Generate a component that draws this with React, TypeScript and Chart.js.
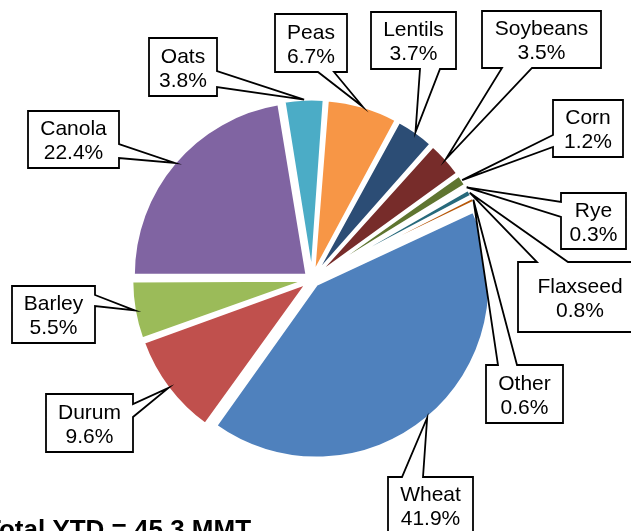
import React, { useEffect, useRef } from "react";
import { Chart, registerables } from "chart.js";

Chart.register(...registerables);

// ---- data ----
const categories = [
  "Wheat", "Durum", "Barley", "Canola", "Oats", "Peas",
  "Lentils", "Soybeans", "Corn", "Rye", "Flaxseed", "Other",
];
const shares = [41.9, 9.6, 5.5, 22.4, 3.8, 6.7, 3.7, 3.5, 1.2, 0.3, 0.8, 0.6];
const sliceColors = [
  "#4F81BD", "#C0504D", "#9BBB59", "#8064A2", "#4BACC6", "#F79646",
  "#2C4D75", "#772C2A", "#5F7530", "#4D3B62", "#276A7C", "#B65708",
];
const totalText = "Total YTD = 45.3 MMT";

// ---- layout (callout boxes: x, y, w, h, side the pointer leaves from, pointer base span) ----
type Side = "left" | "right" | "top" | "bottom";
const calloutBoxes: { x: number; y: number; w: number; h: number; side: Side; a: number; b: number }[] = [
  { x: 388, y: 477, w: 85, h: 57, side: "top", a: 402, b: 423 },     // Wheat
  { x: 46, y: 394, w: 87, h: 58, side: "right", a: 404, b: 417 },    // Durum
  { x: 12, y: 286, w: 83, h: 57, side: "right", a: 295, b: 306 },    // Barley
  { x: 28, y: 111, w: 91, h: 57, side: "right", a: 144, b: 158 },    // Canola
  { x: 149, y: 38, w: 68, h: 58, side: "right", a: 71, b: 87 },      // Oats
  { x: 275, y: 14, w: 72, h: 58, side: "bottom", a: 318, b: 334 },   // Peas
  { x: 371, y: 12, w: 85, h: 57, side: "bottom", a: 420, b: 440 },   // Lentils
  { x: 482, y: 11, w: 119, h: 57, side: "bottom", a: 502, b: 532 },  // Soybeans
  { x: 553, y: 100, w: 70, h: 57, side: "left", a: 135, b: 147 },    // Corn
  { x: 561, y: 193, w: 65, h: 56, side: "left", a: 202, b: 217 },    // Rye
  { x: 518, y: 262, w: 124, h: 70, side: "top", a: 537, b: 568 },    // Flaxseed
  { x: 486, y: 365, w: 77, h: 58, side: "top", a: 498, b: 517 },     // Other
];

const W = 631;
const H = 531;
const EXPLODE = 7; // px each slice is pulled out
const RADIUS = 173;
const LABEL_FONT = "21px 'Liberation Sans', Arial, sans-serif";
const TOTAL_FONT = "bold 26px 'Liberation Sans', Arial, sans-serif";

const radiusFix = {
  id: "radiusFix",
  afterDatasetUpdate(chart: any, args: any) {
    const meta = args.meta;
    meta.data.forEach((el: any) => {
      const t = (el.options?.offset || 0) / 4;
      const fix = 1 - Math.sin(Math.min(Math.PI, el.circumference || 0));
      el.outerRadius = RADIUS - t * fix;
    });
  },
};

const callouts = {
  id: "callouts",
  afterDraw(chart: any) {
    const ctx: CanvasRenderingContext2D = chart.ctx;
    const meta = chart.getDatasetMeta(0);
    ctx.save();
    meta.data.forEach((el: any, i: number) => {
      const box = calloutBoxes[i];
      if (!box) return;
      const mid = (el.startAngle + el.endAngle) / 2;
      const r = RADIUS + EXPLODE;
      const tx = el.x + Math.cos(mid) * r;
      const ty = el.y + Math.sin(mid) * r;
      const { x, y, w, h, side, a, b } = box;
      ctx.beginPath();
      if (side === "right") {
        ctx.moveTo(x, y);
        ctx.lineTo(x + w, y);
        ctx.lineTo(x + w, a);
        ctx.lineTo(tx, ty);
        ctx.lineTo(x + w, b);
        ctx.lineTo(x + w, y + h);
        ctx.lineTo(x, y + h);
      } else if (side === "left") {
        ctx.moveTo(x, y);
        ctx.lineTo(x + w, y);
        ctx.lineTo(x + w, y + h);
        ctx.lineTo(x, y + h);
        ctx.lineTo(x, b);
        ctx.lineTo(tx, ty);
        ctx.lineTo(x, a);
      } else if (side === "top") {
        ctx.moveTo(x, y);
        ctx.lineTo(a, y);
        ctx.lineTo(tx, ty);
        ctx.lineTo(b, y);
        ctx.lineTo(x + w, y);
        ctx.lineTo(x + w, y + h);
        ctx.lineTo(x, y + h);
      } else {
        ctx.moveTo(x, y);
        ctx.lineTo(x + w, y);
        ctx.lineTo(x + w, y + h);
        ctx.lineTo(b, y + h);
        ctx.lineTo(tx, ty);
        ctx.lineTo(a, y + h);
        ctx.lineTo(x, y + h);
      }
      ctx.closePath();
      ctx.fillStyle = "#FFFFFF";
      ctx.fill();
      ctx.lineWidth = 1.8;
      ctx.lineJoin = "miter";
      ctx.strokeStyle = "#000000";
      ctx.stroke();

      ctx.fillStyle = "#000000";
      ctx.font = LABEL_FONT;
      ctx.textAlign = "center";
      ctx.textBaseline = "alphabetic";
      const cx = x + w / 2;
      const cy = y + h / 2;
      ctx.fillText(categories[i], cx, cy - 4.5);
      ctx.fillText(shares[i].toFixed(1) + "%", cx, cy + 19.5);
    });

    ctx.font = TOTAL_FONT;
    ctx.textAlign = "left";
    ctx.textBaseline = "alphabetic";
    ctx.fillStyle = "#000000";
    ctx.fillText(totalText, -15, 538);
    ctx.restore();
  },
};

export default function App() {
  const ref = useRef<HTMLCanvasElement>(null);
  useEffect(() => {
    if (!ref.current) return;
    const cx = 312;
    const cy = 279.4;
    const chart = new Chart(ref.current, {
      type: "pie",
      data: {
        labels: categories,
        datasets: [
          {
            data: shares,
            backgroundColor: sliceColors,
            borderColor: "#FFFFFF",
            borderWidth: 2.4,
            borderJoinStyle: "round",
            offset: EXPLODE * 4,
            hoverOffset: 0,
            radius: RADIUS,
            rotation: 64.8,
          } as any,
        ],
      },
      options: {
        responsive: false,
        animation: false,
        events: [],
        rotation: 64.8,
        layout: {
          padding: { left: 0, right: W - 2 * cx, top: 2 * cy - H, bottom: 0 },
        },
        plugins: {
          legend: { display: false },
          tooltip: { enabled: false },
        },
      } as any,
      plugins: [radiusFix, callouts],
    });
    return () => chart.destroy();
  }, []);
  return (
    <div style={{ position: "fixed", left: 0, top: 0, width: W, height: H, background: "#FFFFFF" }}>
      <canvas ref={ref} width={W} height={H} style={{ display: "block", width: W, height: H }} />
    </div>
  );
}
